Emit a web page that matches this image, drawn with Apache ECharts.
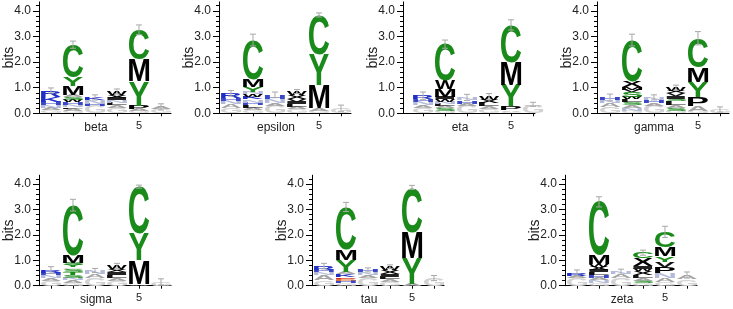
<!DOCTYPE html>
<html><head><meta charset="utf-8">
<script src="https://cdn.jsdelivr.net/npm/echarts@6/dist/echarts.min.js"></script>
<style>html,body{margin:0;padding:0;background:#fff}#c{width:733px;height:309px}</style>
</head><body><div id="c"></div>
<script>
// ---------------- DATA ----------------
const positions = [1, 2, 3, 4, 5, 6];
const tickLabels = ['', '', '', '', '5', ''];
const yTickValues = [0, 1, 2, 3, 4];
const panelNames = ['beta', 'epsilon', 'eta', 'gamma', 'sigma', 'tau', 'zeta'];

// each column: letters from bottom to top, [letter, height in bits]
const beta = [
  [['G',0.12],['A',0.1],['N',0.1],['H',0.14],['K',0.18],['R',0.25]],
  [['G',0.1],['A',0.08],['L',0.06],['N',0.1],['H',0.1],['W',0.08],['S',0.1],['A',0.1],['M',0.35],['Y',0.33],['C',1.28]],
  [['G',0.28],['H',0.1],['N',0.14],['K',0.1]],
  [['G',0.2],['A',0.12],['L',0.08],['N',0.1],['I',0.1],['X',0.12],['W',0.13]],
  [['G',0.08],['A',0.08],['P',0.14],['Y',0.95],['M',0.85],['C',1.16]],
  [['G',0.15],['A',0.1]]
];
const betaErr = [0.1, 0.14, 0.1, 0.1, 0.19, 0.12];

const epsilon = [
  [['G',0.2],['A',0.15],['N',0.13],['H',0.1],['R',0.2]],
  [['G',0.12],['A',0.1],['L',0.1],['H',0.1],['N',0.12],['K',0.1],['W',0.11],['N',0.1],['Y',0.17],['M',0.28],['C',1.56]],
  [['G',0.3],['A',0.12],['N',0.15],['H',0.15]],
  [['G',0.15],['A',0.1],['L',0.1],['I',0.1],['V',0.1],['X',0.15],['W',0.15]],
  [['G',0.1],['A',0.1],['M',0.9],['Y',1.2],['C',1.54]],
  [['G',0.2]]
];
const epsilonErr = [0.11, 0.23, 0.11, 0.08, 0.08, 0.12];

const eta = [
  [['G',0.2],['A',0.12],['N',0.14],['H',0.08],['R',0.14]],
  [['G',0.1],['S',0.1],['A',0.08],['L',0.1],['N',0.08],['W',0.1],['I',0.09],['M',0.3],['W',0.33],['C',1.42]],
  [['G',0.28],['A',0.1],['H',0.12],['N',0.12]],
  [['G',0.15],['A',0.12],['L',0.12],['X',0.13],['W',0.13]],
  [['G',0.07],['A',0.07],['P',0.14],['Y',0.82],['M',0.9],['C',1.45]],
  [['G',0.3],['A',0.05]]
];
const etaErr = [0.15, 0.16, 0.12, 0.12, 0.2, 0.08];

const gamma = [
  [['G',0.25],['A',0.15],['N',0.1],['H',0.12]],
  [['G',0.1],['N',0.12],['A',0.1],['S',0.12],['L',0.1],['W',0.1],['S',0.18],['V',0.1],['M',0.1],['X',0.23],['C',1.61]],
  [['G',0.3],['A',0.1],['H',0.12],['N',0.1]],
  [['G',0.1],['S',0.12],['A',0.12],['L',0.12],['S',0.1],['I',0.12],['V',0.1],['X',0.1],['W',0.12]],
  [['G',0.1],['A',0.18],['P',0.34],['Y',0.6],['M',0.56],['C',1.15]],
  [['G',0.15]]
];
const gammaErr = [0.13, 0.23, 0.1, 0.1, 0.26, 0.1];

const sigma = [
  [['G',0.2],['A',0.1],['N',0.12],['H',0.08],['R',0.12]],
  [['G',0.12],['A',0.1],['N',0.1],['S',0.12],['T',0.1],['S',0.12],['G',0.06],['Y',0.08],['S',0.1],['M',0.28],['C',1.99]],
  [['G',0.3],['A',0.15],['N',0.15]],
  [['G',0.2],['A',0.12],['L',0.1],['I',0.1],['X',0.12],['W',0.13]],
  [['A',0.07],['M',0.94],['Y',1.04],['C',1.85]],
  [['G',0.15]]
];
const sigmaErr = [0.13, 0.23, 0.08, 0.11, 0.06, 0.12];

const tau = [
  [['G',0.22],['A',0.2],['N',0.12],['H',0.08],['R',0.15]],
  [['G',0.1],['H',0.1],['E',0.08],['D',0.07],['K',0.1],['A',0.1],['Y',0.45],['M',0.42],['C',1.68]],
  [['G',0.3],['A',0.12],['N',0.1],['H',0.1]],
  [['G',0.15],['A',0.1],['L',0.1],['I',0.12],['X',0.13],['W',0.15]],
  [['A',0.08],['Y',1.02],['M',1.0],['C',1.77]],
  [['G',0.3]]
];
const tauErr = [0.11, 0.18, 0.08, 0.07, 0.08, 0.1];

const zeta = [
  [['G',0.3],['A',0.1],['R',0.1]],
  [['G',0.12],['N',0.1],['A',0.1],['H',0.1],['L',0.1],['I',0.1],['X',0.13],['W',0.1],['M',0.35],['C',2.1]],
  [['G',0.3],['A',0.15],['N',0.1]],
  [['G',0.1],['S',0.1],['A',0.12],['L',0.12],['X',0.13],['W',0.1],['I',0.1],['X',0.3],['C',0.23]],
  [['G',0.15],['A',0.15],['N',0.2],['P',0.25],['V',0.18],['Y',0.22],['M',0.35],['C',0.62]],
  [['G',0.25],['A',0.17]]
];
const zetaErr = [0.12, 0.2, 0.1, 0.1, 0.22, 0.12];

const panelColumns = [beta, epsilon, eta, gamma, sigma, tau, zeta];
const panelErrors = [betaErr, epsilonErr, etaErr, gammaErr, sigmaErr, tauErr, zetaErr];

// ---------------- STYLE / LAYOUT ----------------
const letterColors = {
  C:'#1a8a1a', Y:'#1a8a1a', S:'#1a8a1a', T:'#1a8a1a', Q:'#1a8a1a',
  M:'#000000', P:'#000000', W:'#000000', X:'#000000', L:'#111111', I:'#222222', V:'#111111', F:'#000000',
  K:'#1f2ec4', R:'#1f2ec4', H:'#3a48c8',
  D:'#d42a2a', E:'#e07030',
  A:'#a4a4a4', G:'#d2d2d2', N:'#b3bbd9'
};
const ERR_COLOR = '#a8a8a8';
const FAMILY = '"Liberation Sans", Arial, Helvetica, sans-serif';
const LOGO_FONT = 'bold 100px ' + FAMILY;
const gridLeft = [39, 219, 403, 597, 39, 312, 565];
const xMinList = [0.455, 0.455, 0.09, 0.41, 0.455, 0.455, 0.455];
const rowTop = [1.9, 175.2];
const rowHeight = [111.4, 110.5];
const Y_MAX = 4.35;

const mctx = document.createElement('canvas').getContext('2d');
const metricCache = {};
function glyphMetrics(ch) {
  if (!metricCache[ch]) {
    mctx.font = LOGO_FONT; mctx.textAlign = 'center'; mctx.textBaseline = 'middle';
    const m = mctx.measureText(ch);
    metricCache[ch] = {L:m.actualBoundingBoxLeft, R:m.actualBoundingBoxRight,
      A:m.actualBoundingBoxAscent, D:m.actualBoundingBoxDescent};
  }
  return metricCache[ch];
}

const minorVals = [];
for (let v = 0.2; v < 4.25; v += 0.2) { if (Math.abs(v - Math.round(v)) > 0.01) minorVals.push(+v.toFixed(1)); }
const labelPositions = positions.filter((p, i) => tickLabels[i] !== '');

const grids = [], xAxes = [], yAxes = [], series = [];
panelNames.forEach((name, i) => {
  const row = i < 4 ? 0 : 1;
  grids.push({left: gridLeft[i], top: rowTop[row], width: 132, height: rowHeight[row],
    containLabel: false, outerBoundsMode: 'none'});
  xAxes.push({
    gridIndex: i, type: 'value', min: xMinList[i], max: xMinList[i] + 6,
    axisLine: {show: true, onZero: false, lineStyle: {color: '#000', width: 1}},
    axisTick: {show: true, customValues: positions, length: 3, lineStyle: {color: '#000'}},
    axisLabel: {show: true, customValues: labelPositions, margin: 7, fontSize: 11, color: '#222', fontFamily: FAMILY,
      formatter: v => tickLabels[positions.indexOf(Math.round(v))] || ''},
    splitLine: {show: false},
    name: name, nameLocation: 'middle', nameGap: 8, nameMoveOverlap: false,
    nameTextStyle: {fontSize: 12, color: '#222', fontFamily: FAMILY, padding: [0, 18, 0, 0]}
  });
  yAxes.push({
    gridIndex: i, type: 'value', min: 0, max: Y_MAX,
    axisLine: {show: true, lineStyle: {color: '#000', width: 1}},
    axisTick: {show: true, customValues: yTickValues, length: 6, lineStyle: {color: '#000'}},
    axisLabel: {show: true, customValues: yTickValues, margin: 8, fontSize: 12, color: '#222', fontFamily: FAMILY,
      formatter: v => v.toFixed(1)},
    splitLine: {show: false},
    name: 'bits', nameLocation: 'middle', nameGap: 23, nameMoveOverlap: false,
    nameTextStyle: {fontSize: 14, color: '#222', fontFamily: FAMILY}
  });
  yAxes.push({
    gridIndex: i, type: 'value', min: 0, max: Y_MAX, position: 'left',
    axisLine: {show: false},
    axisTick: {show: true, customValues: minorVals, length: 3, lineStyle: {color: '#000'}},
    axisLabel: {show: false}, splitLine: {show: false}
  });

  const cols = panelColumns[i];
  const records = [], errData = [];
  cols.forEach((col, ci) => {
    let base = 0;
    col.forEach(([letter, h]) => {
      records.push({pos: positions[ci], y0: base, y1: base + h, letter});
      base += h;
    });
    errData.push([positions[ci], base, panelErrors[i][ci]]);
  });
  series.push({
    type: 'custom', xAxisIndex: i, yAxisIndex: 2 * i, silent: true, clip: false,
    encode: {x: 0, y: [1, 2]},
    data: records.map(r => [r.pos, r.y0, r.y1]),
    renderItem: (params, api) => {
      const rec = records[params.dataIndex];
      const top = api.coord([api.value(0), api.value(2)]);
      const bot = api.coord([api.value(0), api.value(1)]);
      const bw = api.size([1, 0])[0] * 0.92;
      const bh = bot[1] - top[1];
      if (bh < 0.2) return null;
      const m = glyphMetrics(rec.letter);
      const sx = bw / (m.L + m.R), sy = bh / (m.A + m.D);
      return {
        type: 'text', x: top[0] - bw / 2 + sx * m.L, y: top[1] + sy * m.A,
        scaleX: sx, scaleY: sy, silent: true,
        style: {text: rec.letter, font: LOGO_FONT, fill: letterColors[rec.letter] || '#999',
          align: 'center', verticalAlign: 'middle'}
      };
    }
  });
  series.push({
    type: 'custom', xAxisIndex: i, yAxisIndex: 2 * i, silent: true, clip: false, z: 5,
    encode: {x: 0, y: 1},
    data: errData,
    renderItem: (params, api) => {
      const pos = api.value(0), t = api.value(1), e = api.value(2);
      const a = api.coord([pos, t + e]), b = api.coord([pos, t - e]);
      const cw = 3;
      const st = {stroke: ERR_COLOR, lineWidth: 1};
      return {type: 'group', children: [
        {type: 'line', shape: {x1: a[0], y1: a[1], x2: b[0], y2: b[1]}, style: st},
        {type: 'line', shape: {x1: a[0] - cw, y1: a[1], x2: a[0] + cw, y2: a[1]}, style: st},
        {type: 'line', shape: {x1: b[0] - cw, y1: b[1], x2: b[0] + cw, y2: b[1]}, style: st}
      ]};
    }
  });
});

const chart = echarts.init(document.getElementById('c'), null, {renderer: 'canvas'});
chart.setOption({
  animation: false,
  backgroundColor: '#ffffff',
  grid: grids, xAxis: xAxes, yAxis: yAxes, series: series
});
</script>
</body></html>
